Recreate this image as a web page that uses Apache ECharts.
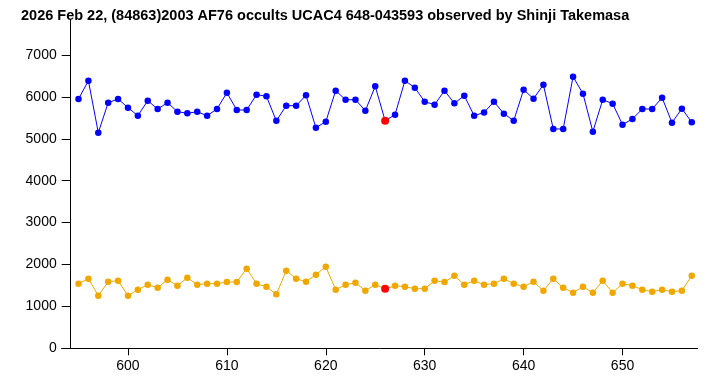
<!DOCTYPE html>
<html>
<head>
<meta charset="utf-8">
<script src="https://cdn.jsdelivr.net/npm/echarts@6/dist/echarts.min.js"></script>
<style>
  html, body { margin: 0; padding: 0; background: #fff; }
  #chart { width: 728px; height: 378px; }
</style>
</head>
<body>
<div id="chart"></div>
<script>
// frame numbers (x axis)
const frames = [
  595, 596, 597, 598, 599, 600, 601, 602, 603, 604, 605, 606, 607, 608, 609, 610,
  611, 612, 613, 614, 615, 616, 617, 618, 619, 620, 621, 622, 623, 624, 625, 626,
  627, 628, 629, 630, 631, 632, 633, 634, 635, 636, 637, 638, 639, 640, 641, 642,
  643, 644, 645, 646, 647, 648, 649, 650, 651, 652, 653, 654, 655, 656, 657
]

// target star + asteroid
const targetFlux = [
  5950, 6387, 5146, 5862, 5950, 5743, 5551, 5910, 5711, 5862, 5647, 5608, 5647, 5551, 5711, 6100,
  5687, 5687, 6053, 6014, 5428, 5790, 5790, 6038, 5265, 5408, 6148, 5933, 5933, 5671, 6253, 5432,
  5575, 6387, 6220, 5886, 5814, 6148, 5847, 6029, 5551, 5628, 5886, 5600, 5432, 6172, 5957, 6291,
  5234, 5234, 6482, 6076, 5170, 5933, 5838, 5337, 5473, 5711, 5711, 5981, 5384, 5719, 5394
]

// comparison star
const compFlux = [
  1542, 1661, 1255, 1590, 1613, 1255, 1399, 1518, 1446, 1637, 1494, 1685, 1518, 1542, 1542, 1582,
  1582, 1900, 1542, 1470, 1288, 1852, 1661, 1590, 1757, 1948, 1399, 1518, 1566, 1375, 1518, 1423,
  1494, 1470, 1423, 1423, 1613, 1582, 1733, 1518, 1613, 1518, 1542, 1661, 1542, 1470, 1590, 1375,
  1661, 1446, 1327, 1470, 1327, 1613, 1327, 1542, 1494, 1399, 1351, 1399, 1351, 1375, 1733
]

// highlighted frame (red marker)
const eventFrame = 626

const yTicks = [0, 1000, 2000, 3000, 4000, 5000, 6000, 7000]
const xTicks = [600, 610, 620, 630, 640, 650]

function buildSeries(values) {
  return frames.map((f, i) => {
    const item = { value: [f, values[i]] }
    if (f === eventFrame) {
      item.itemStyle = { color: '#ff0000' }
      item.symbolSize = 8
    }
    return item
  })
}

const chart = echarts.init(document.getElementById('chart'))

const option = {
  animation: false,
  textStyle: { fontFamily: '"Liberation Sans", Arial, sans-serif' },
  title: {
    text: '2026 Feb 22, (84863)2003 AF76 occults UCAC4 648-043593 observed by Shinji Takemasa',
    left: 16,
    top: 3,
    textStyle: { fontSize: 14.5, fontWeight: 'bold', color: '#000' }
  },
  grid: { left: 61.7, right: 30.3, top: 20, bottom: 29.7 },
  xAxis: {
    type: 'value',
    min: 593.3,
    max: 657.6,
    splitLine: { show: false },
    axisLine: { show: true, onZero: false, lineStyle: { color: '#000' } },
    axisTick: { show: true, length: 7, lineStyle: { color: '#000', width: 1 }, customValues: xTicks },
    axisLabel: {
      margin: 11,
      fontSize: 14,
      color: '#000',
      customValues: xTicks,
      formatter: v => String(v)
    }
  },
  yAxis: {
    type: 'value',
    min: 0,
    max: 7835,
    offset: -9,
    splitLine: { show: false },
    axisLine: { show: true, onZero: false, lineStyle: { color: '#000' } },
    axisTick: { show: true, length: 9, lineStyle: { color: '#000', width: 1 }, customValues: yTicks },
    axisLabel: {
      margin: 14,
      fontSize: 14,
      color: '#000',
      customValues: yTicks,
      formatter: v => String(v)
    }
  },
  series: [
    {
      name: 'target',
      type: 'line',
      data: buildSeries(targetFlux),
      symbol: 'circle',
      symbolSize: 6.5,
      showAllSymbol: true,
      itemStyle: { color: '#0000ff' },
      lineStyle: { color: '#0000ff', width: 1 }
    },
    {
      name: 'comparison',
      type: 'line',
      data: buildSeries(compFlux),
      symbol: 'circle',
      symbolSize: 6.5,
      showAllSymbol: true,
      itemStyle: { color: '#f0a800' },
      lineStyle: { color: '#f0a800', width: 1 }
    }
  ]
}

chart.setOption(option)
</script>
</body>
</html>
